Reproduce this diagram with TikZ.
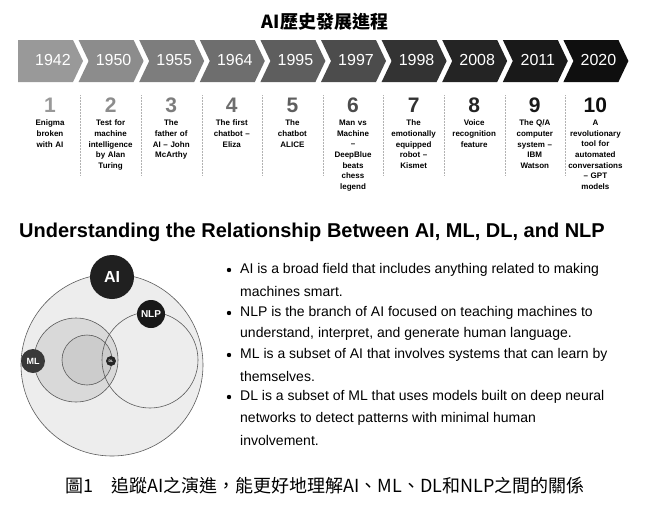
\documentclass[tikz,border=0pt]{standalone}
\usepackage{fontspec}
\setmainfont{Liberation Sans}
\newfontfamily\cjk{Noto Sans CJK TC}
\begin{document}
\begin{tikzpicture}[x=1pt,y=-1pt,
  yearlbl/.style={text=white,font=\fontsize{16}{16}\selectfont},
  numlbl/.style={font=\bfseries\fontsize{21}{21}\selectfont},
  desc/.style={font=\bfseries\fontsize{8}{10.6}\selectfont,align=center,text width=60pt,anchor=north,inner sep=0},
  sep/.style={densely dotted,gray!60,line width=0.5pt},
  ring/.style={draw=gray!70!black,line width=0.6pt},
  badge/.style={circle,inner sep=0,text=white,font=\bfseries},
  bul/.style={anchor=west,font=\fontsize{14}{14}\selectfont,inner sep=0}]
\useasboundingbox (0,0) rectangle (650,506);
\node[font=\cjk\bfseries\fontsize{18}{18}\selectfont] (title) at (325,22) {AI歷史發展進程};
\foreach \i/\yr/\g/\num/\txt in {
 0/1942/40/1/{Enigma\\broken\\with AI},
 1/1950/45/2/{Test for\\machine\\intelligence\\by Alan\\Turing},
 2/1955/51/3/{The\\father of\\AI -- John\\McArthy},
 3/1964/57/4/{The first\\chatbot --\\Eliza},
 4/1995/63/5/{The\\chatbot\\ALICE},
 5/1997/70/6/{Man vs\\Machine\\--\\DeepBlue\\beats\\chess\\legend},
 6/1998/80/7/{The\\emotionally\\equipped\\robot --\\Kismet},
 7/2008/86/8/{Voice\\recognition\\feature},
 8/2011/90/9/{The Q/A\\computer\\system --\\IBM\\Watson},
 9/2020/94/10/{A\\revolutionary\\tool for\\automated\\conversations\\-- GPT\\models}}{
  \pgfmathsetmacro{\xl}{18+60.6*\i}
  \pgfmathsetmacro{\xr}{\xl+55}
  \pgfmathsetmacro{\xt}{\xl+65}
  \pgfmathsetmacro{\xn}{\xl+10}
  \pgfmathsetmacro{\xc}{\xl+32}
  \ifnum\i=0
    \fill[fill=black!\g] (\xl,40) -- (\xr,40) -- (\xt,61) -- (\xr,82) -- (\xl,82) -- cycle;
  \else
    \fill[fill=black!\g] (\xl,40) -- (\xr,40) -- (\xt,61) -- (\xr,82) -- (\xl,82) -- (\xn,61) -- cycle;
  \fi
  \node[yearlbl] (y\i) at (\xc+3,60) {\yr};
  \node[numlbl,text=black!\g] (n\i) at (\xc,105) {\num};
  \node[desc] (d\i) at (\xc,120) {\txt};
}
\foreach \i in {1,...,9}{
  \pgfmathsetmacro{\xs}{18+60.6*\i+2}
  \draw[sep] (\xs,95) -- (\xs,175);
}
\node[anchor=west,font=\bfseries\fontsize{20}{20}\selectfont,inner sep=0] (head) at (19,232) {Understanding the Relationship Between AI, ML, DL, and NLP};
% Venn
\fill[gray!14] (112,365) circle (91);
\draw[ring] (112,365) circle (91);
\fill[gray!30] (76,360) circle (42);
\draw[ring] (76,360) circle (42);
\fill[gray!40] (87,360) circle (25);
\draw[ring] (87,360) circle (25);
\draw[ring] (150,360) circle (48);
\node[badge,fill=gray!25!black,minimum size=44pt,font=\bfseries\fontsize{16}{16}\selectfont] (ai) at (112,277) {AI};
\node[badge,fill=gray!20!black,minimum size=28pt,font=\bfseries\fontsize{10}{10}\selectfont] (nlp) at (151,314) {NLP};
\node[badge,fill=gray!45!black,minimum size=24pt,font=\bfseries\fontsize{9}{9}\selectfont] (ml) at (33,361) {ML};
\node[badge,fill=gray!30!black,minimum size=10pt,font=\bfseries\fontsize{3.5}{4}\selectfont] (dl) at (111,361) {DL};
% bullets
\foreach \yy/\t in {270/{AI is a broad field that includes anything related to making},
 291/{machines smart.},
 313/{NLP is the branch of AI focused on teaching machines to},
 334/{understand, interpret, and generate human language.},
 355/{ML is a subset of AI that involves systems that can learn by},
 376/{themselves.},
 397/{DL is a subset of ML that uses models built on deep neural},
 419/{networks to detect patterns with minimal human},
 440/{involvement.}}{
  \node[bul] at (240,\yy) {\t};
}
\foreach \yy in {270,313,355,397}{ \fill (229,\yy) circle (2.2); }
\node[font=\cjk\fontsize{18}{18}\selectfont] (cap) at (325,486) {圖1\hspace{1em}追蹤AI之演進，能更好地理解AI、ML、DL和NLP之間的關係};
\end{tikzpicture}
\end{document}
